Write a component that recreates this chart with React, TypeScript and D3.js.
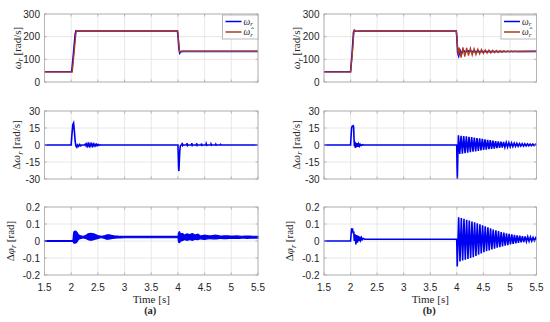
import React from 'react';
import * as d3 from 'd3';

type P = [number, number];

const xTicks = [1.5, 2, 2.5, 3, 3.5, 4, 4.5, 5, 5.5];
const speedTicks = [0, 100, 200, 300];
const errSpeedTicks = [-30, -15, 0, 15, 30];
const errPosTicks = [-0.2, -0.1, 0, 0.1, 0.2];
const subCaptions = ['(a)', '(b)'];

// (a) rotor speed and estimate
const omegaA: P[] = [[1.5,45],[2.01,45],[2.04,120],[2.075,212],[2.09,226],[2.11,224],[2.2,225],[3.99,225],[4.0,205],[4.02,145],[4.035,128],[4.05,134],[4.1,135],[5.5,135]];
const omegaHatA: P[] = [[1.5,45],[2.02,45],[2.055,130],[2.09,220],[2.11,226],[2.15,225],[3.995,225],[4.01,185],[4.03,135],[4.05,132],[4.08,136],[4.12,135],[5.5,135]];
// (b) rotor speed and estimate
const omegaB: P[] = [[1.5,45],[2.0,45],[2.03,130],[2.055,220],[2.07,228],[2.09,224],[2.2,225],[3.99,225],[4.0,200],[4.015,130],[4.035,115],[4.06,140],[4.09,125],[4.12,140],[4.16,132],[4.2,137],[4.3,134],[5.5,135]];
const omegaHatB: P[] = [[1.5,45],[2.0,45],[2.035,130],[2.065,225],[2.08,229],[2.1,224],[2.2,225],[3.99,225],[4.005,190],[4.025,118],
  [4.045,152],[4.08,108],[4.115,153],[4.15,112],[4.185,151],[4.22,116],[4.255,149],[4.29,119],[4.325,147],[4.36,121],[4.395,145],[4.43,124],[4.465,144],[4.5,126],[4.535,142],[4.57,127],[4.605,141],[4.64,128],[4.675,140],[4.71,129],[4.745,139],[4.78,130],[4.815,138],[4.85,131],[4.885,137.5],[4.92,132],[4.955,137],[4.99,133],[5.025,136.5],[5.06,133.5],[5.095,136],[5.13,134],[5.165,135.5],[5.2,134.5],[5.5,135]];

// (a) speed error
const dOmegaA: P[] = [[1.5,0],[2.0,0],[2.015,10],[2.03,18],[2.045,19.5],[2.06,12],[2.075,3],[2.09,-1],[2.105,-2],[2.12,0],[2.14,-1.2],[2.16,0.5],[2.18,-0.8],[2.2,0],[2.25,0],
  [2.265,0.8],[2.28,-0.8],[2.295,1],[2.31,-1],[2.325,1],[2.34,-1],[2.355,1],[2.37,-0.9],[2.385,0.9],[2.4,-0.9],[2.415,0.8],[2.43,-0.8],[2.445,0.7],[2.46,-0.7],[2.475,0.6],[2.49,-0.5],[2.505,0.4],[2.52,-0.3],[2.54,0.2],[2.56,0],
  [4.0,0],[4.005,-8],[4.012,-20],[4.018,-23],[4.026,-14],[4.035,-5],[4.045,-1],[4.06,0],
  [4.075,0],[4.08,1.8],[4.09,-0.5],[4.1,0],[4.165,0],[4.17,1.7],[4.18,-0.5],[4.19,0],[4.255,0],[4.26,1.6],[4.27,-0.4],[4.28,0],[4.345,0],[4.35,1.5],[4.36,-0.4],[4.37,0],[4.435,0],[4.44,1.3],[4.45,-0.3],[4.46,0],[4.525,0],[4.53,1.1],[4.54,-0.3],[4.55,0],[4.615,0],[4.62,0.9],[4.63,-0.2],[4.64,0],[4.705,0],[4.71,0.7],[4.72,-0.1],[4.73,0],[4.795,0],[4.8,0.5],[4.81,0],[5.5,0]];
// (b) speed error
const dOmegaB: P[] = [[1.5,0],[2.0,0],[2.01,8],[2.02,15],[2.03,16.5],[2.05,17],[2.058,16],[2.065,6],[2.072,-1],[2.08,3],[2.09,-2.5],[2.1,2],[2.11,-2],[2.12,1.5],[2.135,-1.5],[2.15,1],[2.165,-1],[2.18,0.6],[2.2,-0.5],[2.22,0.3],[2.25,0],
  [3.998,0],[4.004,-18],[4.01,-30],[4.018,-12],
  [4.03,8.5],[4.055,-8],[4.08,8.2],[4.105,-7.6],[4.13,7.9],[4.155,-7.2],[4.18,7.6],[4.205,-6.8],[4.23,7.3],[4.255,-6.4],[4.28,7],[4.305,-6],[4.33,6.6],[4.355,-5.6],[4.38,6.2],[4.405,-5.2],[4.43,5.8],[4.455,-4.8],[4.48,5.4],[4.505,-4.4],[4.53,5],[4.555,-4],[4.58,4.6],[4.605,-3.7],[4.63,4.2],[4.655,-3.4],[4.68,3.8],[4.705,-3.1],[4.73,3.5],[4.755,-2.8],[4.78,3.2],[4.805,-2.5],[4.83,2.9],[4.855,-2.2],[4.88,2.6],[4.905,-2],[4.93,2.3],[4.955,-1.8],[4.98,2.1],[5.005,-1.6],[5.03,1.9],[5.055,-1.4],[5.08,1.7],[5.105,-1.2],[5.13,1.5],[5.155,-1.1],[5.18,1.3],[5.205,-1],[5.23,1.2],[5.255,-0.9],[5.28,1.1],[5.305,-0.8],[5.33,1],[5.355,-0.7],[5.38,0.9],[5.405,-0.6],[5.43,0.8],[5.455,-0.5],[5.48,0.7],[5.5,0]];

// (a) position error: envelope of a fast oscillation
const phiATime = [1.5,2.0,2.03,2.05,2.08,2.11,2.14,2.18,2.22,2.27,2.32,2.37,2.42,2.47,2.52,2.57,2.62,2.67,2.72,2.77,2.82,2.9,3.0,4.0,4.01,4.03,4.05,4.08,4.12,4.17,4.22,4.27,4.32,4.37,4.42,4.5,4.6,4.7,4.8,4.9,5.0,5.1,5.2,5.3,5.4,5.5];
const phiAHigh = [0.003,0.003,0.003,0.055,0.058,0.05,0.035,0.03,0.028,0.032,0.042,0.045,0.042,0.036,0.03,0.027,0.03,0.036,0.036,0.032,0.029,0.028,0.027,0.027,0.045,0.055,0.04,0.045,0.035,0.042,0.038,0.044,0.035,0.04,0.03,0.035,0.03,0.034,0.029,0.031,0.029,0.03,0.028,0.029,0.028,0.028];
const phiALow = [-0.003,-0.003,-0.003,-0.012,-0.012,-0.005,0.01,0.015,0.018,0.015,0.008,0.005,0.008,0.012,0.017,0.019,0.016,0.011,0.012,0.015,0.017,0.018,0.019,0.019,-0.005,-0.01,0.0,0.002,0.008,0.004,0.008,0.004,0.01,0.008,0.013,0.01,0.014,0.012,0.015,0.014,0.016,0.015,0.017,0.016,0.017,0.017];
// (b) position error
const dPhiB: P[] = [[1.5,0],[2.0,0],[2.01,0.04],[2.02,0.075],[2.03,0.06],[2.04,0.065],[2.05,0.045],[2.06,0.055],[2.07,0.0],[2.085,0.04],[2.1,-0.02],[2.115,0.035],[2.13,-0.01],[2.145,0.03],[2.16,0.0],[2.175,0.025],[2.19,0.005],[2.205,0.02],[2.22,0.008],[2.24,0.015],[2.27,0.01],
  [3.998,0.01],[4.008,-0.15],[4.02,-0.02],
  [4.035,0.14],[4.06,-0.12],[4.085,0.135],[4.11,-0.115],[4.135,0.13],[4.16,-0.11],[4.185,0.125],[4.21,-0.105],[4.235,0.12],[4.26,-0.1],[4.285,0.115],[4.31,-0.095],[4.335,0.11],[4.36,-0.088],[4.385,0.104],[4.41,-0.08],[4.435,0.098],[4.46,-0.073],[4.485,0.092],[4.51,-0.066],[4.535,0.086],[4.56,-0.06],[4.585,0.08],[4.61,-0.055],[4.635,0.074],[4.66,-0.05],[4.685,0.068],[4.71,-0.045],[4.735,0.063],[4.76,-0.04],[4.785,0.058],[4.81,-0.036],[4.835,0.053],[4.86,-0.032],[4.885,0.049],[4.91,-0.028],[4.935,0.045],[4.96,-0.024],[4.985,0.042],[5.01,-0.02],[5.035,0.039],[5.06,-0.017],[5.085,0.036],[5.11,-0.014],[5.135,0.033],[5.16,-0.011],[5.185,0.031],[5.21,-0.008],[5.235,0.029],[5.26,-0.006],[5.285,0.027],[5.31,-0.004],[5.335,0.025],[5.36,-0.002],[5.385,0.023],[5.41,0.0],[5.435,0.021],[5.46,0.002],[5.485,0.019],[5.5,0.01]];

const BLUE = '#0000f0';
const EST = '#b03a1c';
const GRID = '#e2e2e2';
const BOX = '#a8a8a8';
const TXT = '#262626';
const SANS = '"Liberation Sans", Arial, Helvetica, sans-serif';
const SERIF = '"Liberation Serif", "Times New Roman", serif';

const cols = [{ x0: 44.5, x1: 258 }, { x0: 324, x1: 536.5 }];
const rows = [{ y0: 14, y1: 82 }, { y0: 111, y1: 179 }, { y0: 207, y1: 275 }];

type Row = { domain: [number, number]; ticks: number[]; fmt: (v: number) => string; labelOff: number; kind: 'w' | 'dw' | 'dp' };
const rowDefs: Row[] = [
  { domain: [0, 300], ticks: speedTicks, fmt: (v) => String(v), labelOff: 24, kind: 'w' },
  { domain: [-30, 30], ticks: errSpeedTicks, fmt: (v) => String(v), labelOff: 24.5, kind: 'dw' },
  { domain: [-0.2, 0.2], ticks: errPosTicks, fmt: (v) => (v === 0 ? '0' : String(v)), labelOff: 31, kind: 'dp' },
];

function YLabel({ kind }: { kind: 'w' | 'dw' | 'dp' }) {
  const sub = (s: string) => (
    <tspan fontStyle="italic" fontSize={8} dy={2.5}>{s}</tspan>
  );
  if (kind === 'w')
    return (<><tspan fontStyle="italic">ω</tspan>{sub('r')}<tspan dy={-2.5}> [rad/s]</tspan></>);
  if (kind === 'dw')
    return (<><tspan>Δ</tspan><tspan fontStyle="italic">ω</tspan>{sub('r')}<tspan dy={-2.5}> [rad/s]</tspan></>);
  return (<><tspan>Δ</tspan><tspan fontStyle="italic">φ</tspan>{sub('r')}<tspan dy={-2.5}> [rad]</tspan></>);
}

export default function App() {
  const panels: JSX.Element[] = [];
  cols.forEach((c, ci) => {
    const x = d3.scaleLinear().domain([1.5, 5.5]).range([c.x0, c.x1]);
    rows.forEach((r, ri) => {
      const def = rowDefs[ri];
      const y = d3.scaleLinear().domain(def.domain).range([r.y1, r.y0]);
      const line = d3.line<P>().x((d) => x(d[0])).y((d) => y(d[1]));
      const key = `${ci}-${ri}`;
      const els: JSX.Element[] = [];
      xTicks.forEach((t, i) => els.push(<line key={'gx' + i} x1={x(t)} x2={x(t)} y1={r.y0} y2={r.y1} stroke={GRID} strokeWidth={0.8} />));
      def.ticks.forEach((t, i) => els.push(<line key={'gy' + i} x1={c.x0} x2={c.x1} y1={y(t)} y2={y(t)} stroke={GRID} strokeWidth={0.8} />));
      if (ri === 0) {
        const w = ci === 0 ? omegaA : omegaB;
        const wh = ci === 0 ? omegaHatA : omegaHatB;
        els.push(<path key="w" d={line(w) || ''} fill="none" stroke={BLUE} strokeWidth={1.6} />);
        els.push(<path key="wh" d={line(wh) || ''} fill="none" stroke={EST} strokeWidth={1.3} />);
      } else if (ri === 1) {
        const dw = ci === 0 ? dOmegaA : dOmegaB;
        els.push(<path key="dw" d={line(dw) || ''} fill="none" stroke={BLUE} strokeWidth={1.6} />);
      } else {
        if (ci === 0) {
          const idx = d3.range(phiATime.length);
          const area = d3.area<number>().x((i) => x(phiATime[i])).y0((i) => y(phiALow[i])).y1((i) => y(phiAHigh[i])).curve(d3.curveMonotoneX);
          els.push(<path key="dp" d={area(idx) || ''} fill={BLUE} stroke={BLUE} strokeWidth={1.2} strokeLinejoin="round" />);
        } else {
          els.push(<path key="dp" d={line(dPhiB) || ''} fill="none" stroke={BLUE} strokeWidth={1.6} />);
        }
      }
      els.push(<rect key="box" x={c.x0} y={r.y0} width={c.x1 - c.x0} height={r.y1 - r.y0} fill="none" stroke={BOX} strokeWidth={0.8} />);
      xTicks.forEach((t, i) => {
        els.push(<line key={'tb' + i} x1={x(t)} x2={x(t)} y1={r.y1} y2={r.y1 - 2.5} stroke={BOX} strokeWidth={0.8} />);
        els.push(<line key={'tt' + i} x1={x(t)} x2={x(t)} y1={r.y0} y2={r.y0 + 2.5} stroke={BOX} strokeWidth={0.8} />);
      });
      def.ticks.forEach((t, i) => {
        els.push(<line key={'tl' + i} x1={c.x0} x2={c.x0 + 2.5} y1={y(t)} y2={y(t)} stroke={BOX} strokeWidth={0.8} />);
        els.push(<line key={'tr' + i} x1={c.x1} x2={c.x1 - 2.5} y1={y(t)} y2={y(t)} stroke={BOX} strokeWidth={0.8} />);
        els.push(<text key={'yl' + i} x={c.x0 - 4.5} y={y(t)} dy="0.36em" textAnchor="end" fontFamily={SANS} fontSize={10} fill={TXT}>{def.fmt(t)}</text>);
      });
      if (ri === 2) {
        xTicks.forEach((t, i) => els.push(<text key={'xl' + i} x={x(t)} y={290.5} textAnchor="middle" fontFamily={SANS} fontSize={10} fill={TXT}>{String(t)}</text>));
        const cx = (c.x0 + c.x1) / 2;
        els.push(<text key="xt" x={cx} y={302.5} textAnchor="middle" fontFamily={SERIF} fontSize={11} fill={TXT}>Time [s]</text>);
        els.push(<text key="cap" x={cx - 1} y={314} textAnchor="middle" fontFamily={SERIF} fontSize={10.5} fontWeight="bold" fill={TXT}>{subCaptions[ci]}</text>);
      }
      const cy = (r.y0 + r.y1) / 2;
      els.push(
        <text key="ylab" transform={`translate(${c.x0 - def.labelOff},${cy}) rotate(-90)`} textAnchor="middle" fontFamily={SERIF} fontSize={11} fill={TXT}>
          <YLabel kind={def.kind} />
        </text>
      );
      if (ri === 0) {
        const lx = c.x1 - 35.5, ly = r.y0 + 1, lw = 35.5, lh = 24;
        els.push(
          <g key="leg">
            <rect x={lx} y={ly} width={lw} height={lh} fill="#fff" stroke={BOX} strokeWidth={0.8} />
            <line x1={lx + 3} x2={lx + 19} y1={ly + 6.5} y2={ly + 6.5} stroke={BLUE} strokeWidth={1.5} />
            <line x1={lx + 3} x2={lx + 19} y1={ly + 17} y2={ly + 17} stroke={EST} strokeWidth={1.5} />
            <text x={lx + 21} y={ly + 9.5} fontFamily={SERIF} fontSize={9.5} fontStyle="italic" fill={TXT}>ω<tspan fontSize={7} dy={1.8}>r</tspan></text>
            <text x={lx + 21} y={ly + 20} fontFamily={SERIF} fontSize={9.5} fontStyle="italic" fill={TXT}>{'ω\u0302'}<tspan fontSize={7} dy={1.8}>r</tspan></text>
          </g>
        );
      }
      panels.push(<g key={key}>{els}</g>);
    });
  });
  return (
    <svg width={550} height={322} style={{ position: 'absolute', left: 0, top: 0, background: '#fff' }}>
      <rect width={550} height={322} fill="#fff" />
      {panels}
    </svg>
  );
}
